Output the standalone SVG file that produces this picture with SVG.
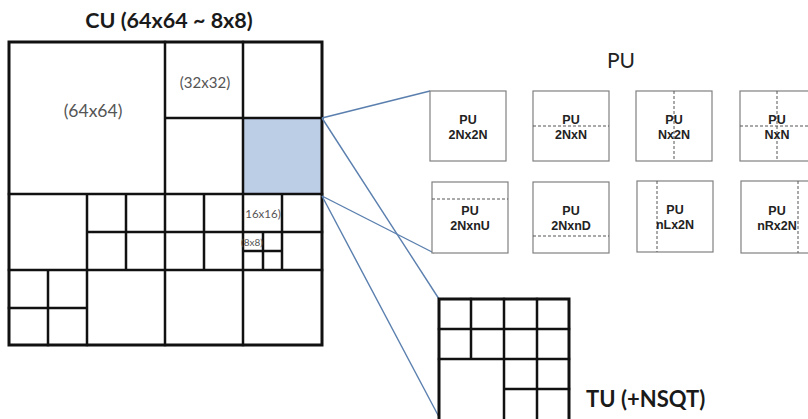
<svg xmlns="http://www.w3.org/2000/svg" width="808" height="419" viewBox="0 0 808 419">
<style>
.grid{fill:none;stroke:#111;stroke-width:2.5;stroke-linecap:square}
.outer{fill:none;stroke:#111;stroke-width:3}
.box{fill:#fff;stroke:#808080;stroke-width:1.2}
.dash{stroke:#555;stroke-width:1;stroke-dasharray:3,2;fill:none}
.conn{stroke:#5a7fae;stroke-width:1.4;fill:none}
.title{font-family:Lato,"Liberation Sans",sans-serif;font-weight:bold;fill:#1a1a1a}
.lbl{font-family:Lato,"Liberation Sans",sans-serif;fill:#555}
.pu{font-family:"Liberation Sans",Arial,sans-serif;font-weight:bold;font-size:12.5px;fill:#222;text-anchor:middle}
</style>
<rect width="808" height="419" fill="#fff"/>

<g id="cu">
<text class="title" x="169" y="28" font-size="21.5" text-anchor="middle">CU (64x64 ~ 8x8)</text>
<rect x="243" y="118" width="79" height="76" fill="#bccde6"/>
<path class="grid" d="M165 42V345 M9 194H322 M243 42V194 M165 118H322
M87 194V345 M9 270H322 M243 194V345
M126 194V270 M87 232H165
M204 194V270 M165 232H322 M282 194V270
M263 232V270 M243 251H282
M48 270V345 M9 308H87"/>
<rect class="outer" x="9" y="42" width="313" height="303"/>
<text class="lbl" x="93" y="117" font-size="17.5" text-anchor="middle">(64x64)</text>
<text class="lbl" x="205" y="88" font-size="15" text-anchor="middle">(32x32)</text>
<text class="lbl" x="263" y="218" font-size="11.5" text-anchor="middle">16x16)</text>
<text class="lbl" x="252" y="246" font-size="10" text-anchor="middle">(8x8)</text>
</g>

<g id="connectors">
<line class="conn" x1="322" y1="118" x2="430" y2="91"/>
<line class="conn" x1="322" y1="196" x2="434" y2="253"/>
<line class="conn" x1="322" y1="118" x2="439" y2="299"/>
<line class="conn" x1="322" y1="196" x2="439" y2="417"/>
</g>

<g id="pu-title">
<text x="621" y="68" font-family="Lato,'Liberation Sans',sans-serif" font-size="21" fill="#222" text-anchor="middle">PU</text>
</g>

<g id="pu-2Nx2N">
<rect class="box" x="430" y="91" width="76" height="70"/>
<text class="pu" x="468" y="124">PU</text><text class="pu" x="468" y="139">2Nx2N</text>
</g>
<g id="pu-2NxN">
<rect class="box" x="533" y="91" width="76" height="70"/>
<line class="dash" x1="533" y1="126" x2="609" y2="126"/>
<text class="pu" x="571" y="124">PU</text><text class="pu" x="571" y="139">2NxN</text>
</g>
<g id="pu-Nx2N">
<rect class="box" x="636" y="91" width="76" height="70"/>
<line class="dash" x1="674" y1="91" x2="674" y2="161"/>
<text class="pu" x="674" y="124">PU</text><text class="pu" x="674" y="139">Nx2N</text>
</g>
<g id="pu-NxN">
<rect class="box" x="740" y="91" width="76" height="70"/>
<line class="dash" x1="777" y1="91" x2="777" y2="161"/>
<line class="dash" x1="740" y1="126" x2="816" y2="126"/>
<text class="pu" x="777" y="124">PU</text><text class="pu" x="777" y="139">NxN</text>
</g>

<g id="pu-2NxnU">
<rect class="box" x="432" y="182" width="76" height="71"/>
<line class="dash" x1="432" y1="199" x2="508" y2="199"/>
<text class="pu" x="470" y="215">PU</text><text class="pu" x="470" y="230">2NxnU</text>
</g>
<g id="pu-2NxnD">
<rect class="box" x="533" y="182" width="76" height="71"/>
<line class="dash" x1="533" y1="236" x2="609" y2="236"/>
<text class="pu" x="571" y="215">PU</text><text class="pu" x="571" y="230">2NxnD</text>
</g>
<g id="pu-nLx2N">
<rect class="box" x="637" y="181" width="76" height="71"/>
<line class="dash" x1="657" y1="181" x2="657" y2="252"/>
<text class="pu" x="675" y="214">PU</text><text class="pu" x="675" y="229">nLx2N</text>
</g>
<g id="pu-nRx2N">
<rect class="box" x="741" y="181" width="76" height="72"/>
<line class="dash" x1="798" y1="181" x2="798" y2="253"/>
<text class="pu" x="777" y="215">PU</text><text class="pu" x="777" y="230">nRx2N</text>
</g>

<g id="tu">
<path class="grid" d="M439 329H569 M439 359H569 M471 299V359 M504 299V420 M537 299V420 M504 389H569"/>
<rect class="outer" x="439" y="299" width="130" height="125"/>
<text class="title" x="586" y="407" font-size="22">TU (+NSQT)</text>
</g>
</svg>
